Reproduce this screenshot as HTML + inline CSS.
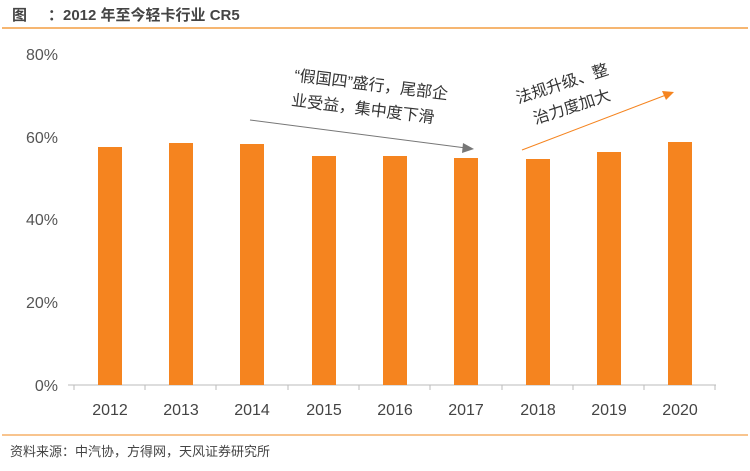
<!DOCTYPE html>
<html><head><meta charset="utf-8"><style>
body{margin:0;background:#fff;width:750px;height:466px;overflow:hidden;font-family:"Liberation Sans","Noto Sans CJK SC",sans-serif;}
</style></head><body>
<svg width="750" height="466" xmlns="http://www.w3.org/2000/svg" font-family="Liberation Sans, Noto Sans CJK SC, sans-serif">
<text x="12" y="20" font-size="15" font-weight="bold" fill="#444">图</text>
<text x="48" y="20" font-size="15" font-weight="bold" fill="#444">：2012 年至今轻卡行业 CR5</text>
<line x1="2" y1="28" x2="748" y2="28" stroke="#f08a1c" stroke-width="1.2"/>
<g font-size="16" fill="#555" text-anchor="end">
<text x="58" y="391">0%</text><text x="58" y="308">20%</text><text x="58" y="225">40%</text><text x="58" y="143">60%</text><text x="58" y="60">80%</text>
</g>
<g stroke="#bbb" stroke-width="1">
<line x1="68" y1="385" x2="716" y2="385"/>
<line x1="74" y1="385" x2="74" y2="390"/><line x1="145" y1="385" x2="145" y2="390"/><line x1="216" y1="385" x2="216" y2="390"/><line x1="288" y1="385" x2="288" y2="390"/><line x1="359" y1="385" x2="359" y2="390"/><line x1="430" y1="385" x2="430" y2="390"/><line x1="502" y1="385" x2="502" y2="390"/><line x1="573" y1="385" x2="573" y2="390"/><line x1="644" y1="385" x2="644" y2="390"/><line x1="715" y1="385" x2="715" y2="390"/>
</g>
<g fill="#f5841f">
<rect x="98" y="147" width="24" height="238"/>
<rect x="169" y="143" width="24" height="242"/>
<rect x="240" y="144" width="24" height="241"/>
<rect x="312" y="156" width="24" height="229"/>
<rect x="383" y="156" width="24" height="229"/>
<rect x="454" y="158" width="24" height="227"/>
<rect x="526" y="159" width="24" height="226"/>
<rect x="597" y="152" width="24" height="233"/>
<rect x="668" y="142" width="24" height="243"/>
</g>
<g font-size="16" fill="#444" text-anchor="middle">
<text x="110" y="415">2012</text><text x="181" y="415">2013</text><text x="252" y="415">2014</text><text x="324" y="415">2015</text><text x="395" y="415">2016</text><text x="466" y="415">2017</text><text x="538" y="415">2018</text><text x="609" y="415">2019</text><text x="680" y="415">2020</text>
</g>
<g transform="rotate(7 370 100)" font-size="16" fill="#333">
<text x="292" y="90">“假国四”盛行，尾部企</text>
<text x="292" y="115">业受益，集中度下滑</text>
</g>
<line x1="250" y1="120" x2="466" y2="148" stroke="#777" stroke-width="1"/>
<polygon points="474,149 463,143 462,153" fill="#777"/>
<g transform="rotate(-18 560 90)" font-size="16" fill="#333">
<text x="516" y="90">法规升级、整</text>
<text x="526" y="115">治力度加大</text>
</g>
<line x1="522" y1="150" x2="666" y2="95" stroke="#f5841f" stroke-width="1"/>
<polygon points="674,92 662,91 666,100" fill="#f5841f"/>
<line x1="2" y1="435" x2="748" y2="435" stroke="#f08a1c" stroke-width="1"/>
<text x="10" y="456" font-size="13" fill="#444">资料来源：中汽协，方得网，天风证券研究所</text>
</svg>
</body></html>
